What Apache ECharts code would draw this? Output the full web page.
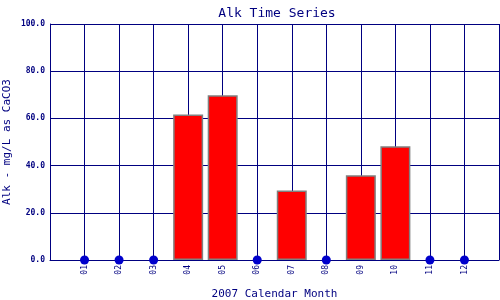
<!DOCTYPE html>
<html><head><meta charset="utf-8">
<script src="https://cdn.jsdelivr.net/npm/echarts@6/dist/echarts.min.js"></script>
<style>html,body{margin:0;padding:0;background:#fff}#c{width:500px;height:300px}</style>
</head><body><div id="c"></div>
<script>
const months = ['01','02','03','04','05','06','07','08','09','10','11','12'];
const alkValues = [0, 0, 0, 61.7, 69.8, 0, 29.5, 0, 35.9, 48.2, 0, 0];
const yTicks = [0, 20, 40, 60, 80, 100];
const titleText = 'Alk Time Series';
const xName = '2007 Calendar Month';
const yName = 'Alk - mg/L as CaCO3';

const navy = '#000080';
const mono = 'DejaVu Sans Mono';
const barData = [], dotData = [];
months.forEach((m, i) => {
  if (alkValues[i] > 0) barData.push([i + 1, alkValues[i]]);
  else dotData.push([i + 1, alkValues[i]]);
});

const chart = echarts.init(document.getElementById('c'));
chart.setOption({
  animation: false,
  backgroundColor: '#fff',
  title: { text: titleText, left: 272, textAlign: 'center', top: 2,
    textStyle: { fontFamily: mono, fontSize: 13, fontWeight: 'normal', color: navy } },
  grid: { left: 50, top: 24, right: 1, bottom: 40, containLabel: false, outerBoundsMode: 'none' },
  xAxis: {
    type: 'value', min: 0, max: 13, interval: 1,
    name: xName, nameLocation: 'middle', nameGap: 29,
    nameTextStyle: { fontFamily: mono, fontSize: 11, color: navy },
    axisLine: { show: true, lineStyle: { color: navy, width: 1 } },
    axisTick: { show: false },
    splitLine: { show: true, lineStyle: { color: navy, width: 1 } },
    axisLabel: { rotate: 90, fontFamily: mono, fontSize: 8, color: navy, margin: 5,
      formatter: v => (v >= 1 && v <= 12) ? months[v - 1] : '' }
  },
  yAxis: {
    type: 'value', min: yTicks[0], max: yTicks[yTicks.length - 1], interval: 20,
    name: yName, nameLocation: 'middle', nameGap: 37, nameRotate: 90, nameMoveOverlap: false,
    nameTextStyle: { fontFamily: mono, fontSize: 11, color: navy },
    axisLine: { show: true, lineStyle: { color: navy, width: 1 } },
    axisTick: { show: false },
    splitLine: { show: true, lineStyle: { color: navy, width: 1 } },
    axisLabel: { fontFamily: mono, fontSize: 8, fontWeight: 'bold', color: navy, margin: 5,
      formatter: v => v.toFixed(1) }
  },
  series: [
    { type: 'bar', data: barData, barWidth: 30,
      itemStyle: { color: '#ff0000', borderColor: '#808080', borderWidth: 1.5 } },
    { type: 'scatter', data: dotData, symbolSize: 9, z: 5,
      itemStyle: { color: '#0000cc', opacity: 1 } }
  ]
});
</script></body></html>
